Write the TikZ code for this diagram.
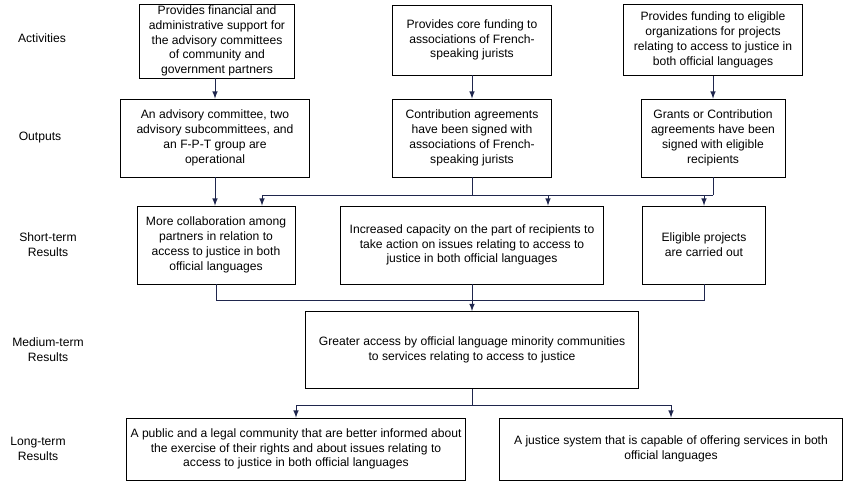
\documentclass[tikz,border=0pt]{standalone}
\usepackage{fontspec}
\setmainfont{Liberation Sans}
\usetikzlibrary{positioning,calc}
\definecolor{linecol}{RGB}{31,38,77}
\begin{document}
\begin{tikzpicture}[x=0.02cm,y=-0.02cm,
font=\fontsize{6.9}{8.4}\selectfont,
box/.style={rectangle, draw=black, line width=0.45pt, align=center, inner sep=1pt},
lbl/.style={align=center},
link/.style={draw=linecol, line width=0.45pt},
arr/.style={link, -latex},
]
\useasboundingbox (0,0) rectangle (849,492);
%Row labels
\node[lbl] (lact) at (42,38)  {Activities};
\node[lbl] (lout) at (40,138) {Outputs};
\node[lbl] (lsht) at (48,245) {Short-term\\Results};
\node[lbl] (lmed) at (48,350) {Medium-term\\Results};
\node[lbl] (llng) at (38,449) {Long-term\\Results};

%Activities
\node[box, minimum width=155*0.02cm, minimum height=72*0.02cm] (act1) at (217,41) {Provides financial and\\administrative support for\\the advisory committees\\of community and\\government partners};
\node[box, minimum width=159*0.02cm, minimum height=70*0.02cm] (act2) at (472,40) {Provides core funding to\\associations of French-\\speaking jurists};
\node[box, minimum width=179*0.02cm, minimum height=71*0.02cm] (act3) at (713,40) {Provides funding to eligible\\organizations for projects\\relating to access to justice in\\both official languages};

%Outputs
\node[box, minimum width=189*0.02cm, minimum height=78*0.02cm] (out1) at (215,138) {An advisory committee, two\\advisory subcommittees, and\\an F-P-T group are\\operational};
\node[box, minimum width=159*0.02cm, minimum height=78*0.02cm] (out2) at (472,138) {Contribution agreements\\have been signed with\\associations of French-\\speaking jurists};
\node[box, minimum width=144*0.02cm, minimum height=78*0.02cm] (out3) at (713,138) {Grants or Contribution\\agreements have been\\signed with eligible\\recipients};

%Short-term
\node[box, minimum width=158*0.02cm, minimum height=78*0.02cm] (sht1) at (216,245) {More collaboration among\\partners in relation to\\access to justice in both\\official languages};
\node[box, minimum width=263*0.02cm, minimum height=78*0.02cm] (sht2) at (472,245) {Increased capacity on the part of recipients to\\take action on issues relating to access to\\justice in both official languages};
\node[box, minimum width=123*0.02cm, minimum height=78*0.02cm] (sht3) at (704,245) {Eligible projects\\are carried out};

%Medium-term
\node[box, minimum width=333*0.02cm, minimum height=77*0.02cm] (med) at (472,350) {Greater access by official language minority communities\\to services relating to access to justice};

%Long-term
\node[box, minimum width=339*0.02cm, minimum height=62*0.02cm] (lng1) at (296,449) {A public and a legal community that are better informed about\\the exercise of their rights and about issues relating to\\access to justice in both official languages};
\node[box, minimum width=343*0.02cm, minimum height=62*0.02cm] (lng2) at (671,449) {A justice system that is capable of offering services in both\\official languages};

%Lines
\draw[arr] (act1.south -| out1.north) -- (out1.north);
\draw[arr] (act2.south) -- (out2.north);
\draw[arr] (act3.south) -- (out3.north);
\draw[arr] (out1.south) -- (out1.south |- sht1.north);
\draw[link] (out2.south) -- (472,195) coordinate (j2);
\draw[arr] (j2) -| (sht1.north -| 262,0);
\draw[arr] (j2) -| (sht2.north -| 548,0);
\draw[link] (out3.south) -- (713,195) coordinate (j3);
\draw[link] (j3) -- (548,195);
\draw[arr] (j3) -| (sht3.north);
\draw[link] (sht1.south) |- (472,300) coordinate (j4);
\draw[link] (sht3.south) |- (j4);
\draw[arr] (sht2.south) -- (med.north);
\draw[link] (med.south) -- (472,405) coordinate (j5);
\draw[arr] (j5) -| (lng1.north);
\draw[arr] (j5) -| (lng2.north);
\end{tikzpicture}
\end{document}
